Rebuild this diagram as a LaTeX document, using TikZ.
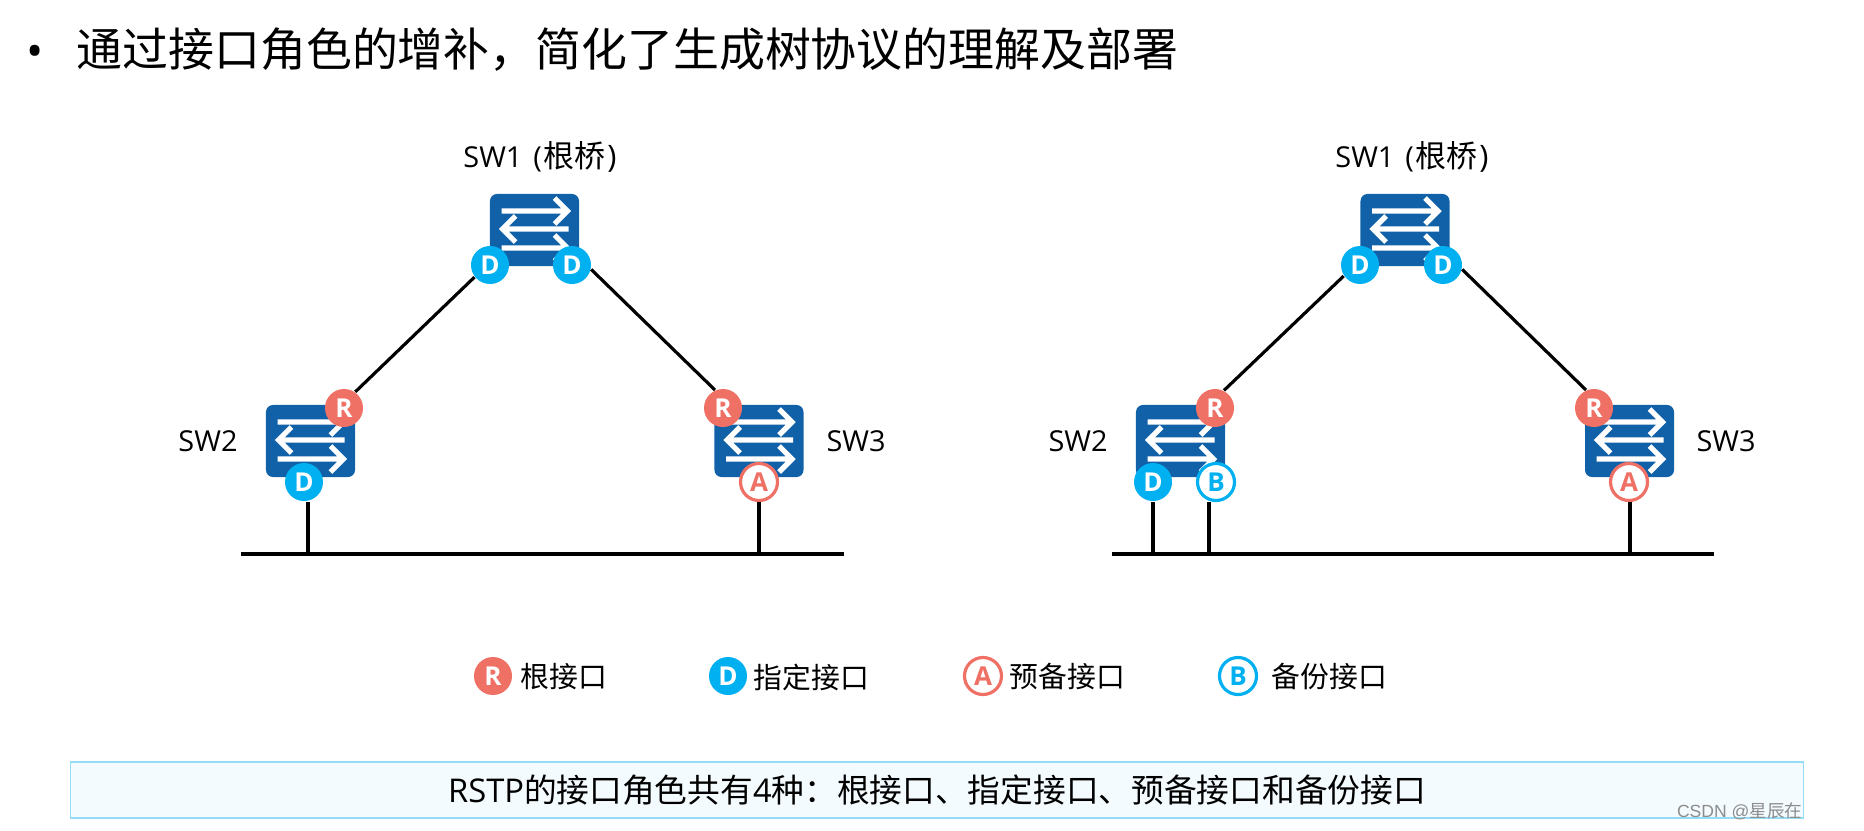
\documentclass[tikz,border=0pt]{standalone}
\usepackage{fontspec}
\setmainfont{Noto Sans CJK SC}
\newfontfamily\lat{Open Sans}
\newfontfamily\wmk{Liberation Sans}
\definecolor{swblue}{HTML}{1161A9}
\definecolor{portd}{HTML}{00B0F0}
\definecolor{portr}{HTML}{EF7064}
\definecolor{noteline}{HTML}{95DCF6}
\definecolor{notefill}{HTML}{F3FBFE}
\tikzset{
  swbox/.style={fill=swblue,rounded corners=2pt,minimum width=0.89cm,minimum height=0.72cm,inner sep=0pt},
  swarrow/.style={white,line width=1.5pt},
  port/.style={circle,minimum size=0.38cm,inner sep=0pt,font=\lat\bfseries\fontsize{7.4}{8}\selectfont},
  portfill/.style={port,fill=#1,text=white},
  portring/.style={port,draw=#1,line width=0.9pt,fill=white,text=#1,minimum size=0.37cm},
  link/.style={black,line width=0.9pt},
  lbl/.style={font=\fontsize{8.2}{10}\selectfont,inner sep=0pt},
}
\newcommand{\swfig}[2]{%
  \begin{scope}[shift={(#2)}]
    \node[swbox] (#1) at (0,0) {};
    \draw[swarrow] (-33,-19) -- (33,-19) (20,-32) -- (33,-19) -- (20,-6);
    \draw[swarrow] (34,-1) -- (-32,-1) (-19,-14) -- (-32,-1) -- (-19,12);
    \draw[swarrow] (-33,18) -- (33,18) (20,5) -- (33,18) -- (20,31);
  \end{scope}}
\begin{document}
\begin{tikzpicture}[x=0.01cm,y=-0.01cm]
  \useasboundingbox (0,0) rectangle (1864,830);
  % title
  \node[inner sep=0pt,font=\lat\fontsize{13}{15}\selectfont] (dot) at (35,56) {•};
  \node[inner sep=0pt,anchor=west,font=\fontsize{13.05}{15}\selectfont] (title) at (76,50) {通过接口角色的增补，简化了生成树协议的理解及部署};
  % left
  \swfig{asw1}{534.5,230}
  \swfig{asw2}{310.5,441}
  \swfig{asw3}{759,441}
  \node[lbl] (asw1t) at (540,157) {{\lat SW1\hspace{1pt} (\hspace{0.5pt}}\fontsize{8.8}{10}\selectfont 根桥{\lat\hspace{0.5pt})}};
  \node[lbl] (asw2t) at (208,441) {\lat SW2};
  \node[lbl] (asw3t) at (856,441) {\lat SW3};
  \node[portfill=portd] (ad1) at (490,265) {D};
  \node[portfill=portd] (ad2) at (572,265) {D};
  \node[portfill=portr] (ar2) at (344,408) {R};
  \node[portfill=portd] (ad3) at (304,482) {D};
  \node[portfill=portr] (ar3) at (723,408) {R};
  \node[portring=portr] (aa3) at (759,482) {A};
  \coordinate (abl) at (241,554);
  \coordinate (abr) at (844,554);
  \coordinate (at1) at (308,554);
  \coordinate (at2) at (759,554);
  \draw[link] (ad1.218) -- (ar2.55);
  \draw[link] (ad2.-13) -- (ar3.114);
  \draw[link] (abl) -- (abr);
  \draw[link] (at1) -- (at1 |- ad3.south);
  \draw[link] (at2) -- (aa3.south);
  % right
  \swfig{bsw1}{1405,230}
  \swfig{bsw2}{1180.5,441}
  \swfig{bsw3}{1629.5,441}
  \node[lbl] (bsw1t) at (1412,157) {{\lat SW1\hspace{1pt} (\hspace{0.5pt}}\fontsize{8.8}{10}\selectfont 根桥{\lat\hspace{0.5pt})}};
  \node[lbl] (bsw2t) at (1078,441) {\lat SW2};
  \node[lbl] (bsw3t) at (1726,441) {\lat SW3};
  \node[portfill=portd] (bd1) at (1360,265) {D};
  \node[portfill=portd] (bd2) at (1443,265) {D};
  \node[portfill=portr] (br2) at (1215,408) {R};
  \node[portfill=portd] (bd3) at (1153,482) {D};
  \node[portring=portd] (bb2) at (1216,482) {B};
  \node[portfill=portr] (br3) at (1594,408) {R};
  \node[portring=portr] (ba3) at (1629,482) {A};
  \coordinate (bbl) at (1112,554);
  \coordinate (bbr) at (1714,554);
  \coordinate (bt1) at (1153,554);
  \coordinate (bt2) at (1209,554);
  \coordinate (bt3) at (1630,554);
  \draw[link] (bd1.214) -- (br2.63);
  \draw[link] (bd2.-13) -- (br3.114);
  \draw[link] (bbl) -- (bbr);
  \draw[link] (bt1) -- (bd3.south);
  \draw[link] (bt2) -- (bt2 |- bb2.south);
  \draw[link] (bt3) -- (bt3 |- ba3.south);
  % legend
  \node[portfill=portr] (lr) at (493,676) {R};
  \node[lbl,anchor=west] (lrt) at (520,677) {根接口};
  \node[portfill=portd] (ld) at (728,676) {D};
  \node[lbl,anchor=west] (ldt) at (753,677) {指定接口};
  \node[portring=portr] (la) at (983,676) {A};
  \node[lbl,anchor=west] (lat) at (1009,677) {预备接口};
  \node[portring=portd] (lb) at (1238,676) {B};
  \node[lbl,anchor=west] (lbt) at (1271,677) {备份接口};
  % note
  \node[draw=noteline,fill=notefill,line width=0.5pt,minimum width=17.32cm,minimum height=0.56cm,inner sep=0pt] (note) at (937,790) {};
  \node[lbl,font=\fontsize{9.3}{11}\selectfont] (notet) at (937,790) {{\lat RSTP}的接口角色共有{\lat 4}种：根接口、指定接口、预备接口和备份接口};
  \node[anchor=east,inner sep=0pt,text=black!45,font=\fontsize{5}{6}\selectfont] (mark) at (1803,811) {{\wmk CSDN @}星辰在};
\end{tikzpicture}
\end{document}
